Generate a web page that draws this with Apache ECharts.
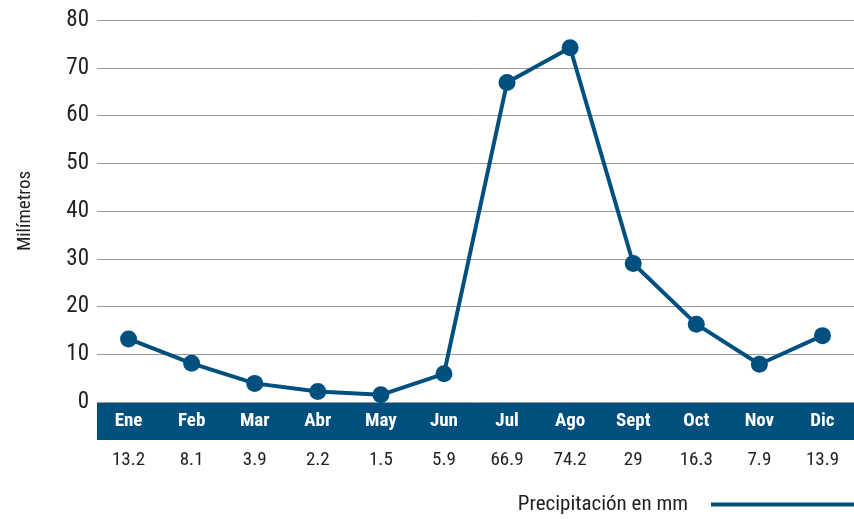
<!DOCTYPE html>
<html>
<head>
<meta charset="utf-8">
<script src="https://cdn.jsdelivr.net/npm/echarts@6/dist/echarts.min.js"></script>
<style>
  html, body { margin: 0; padding: 0; background: #fff; }
  #main { width: 854px; height: 519px; }
</style>
</head>
<body>
<div id="main"></div>
<script>
// meses y precipitación
const months = ['Ene', 'Feb', 'Mar', 'Abr', 'May', 'Jun', 'Jul', 'Ago', 'Sept', 'Oct', 'Nov', 'Dic'];
const rain = [13.2, 8.1, 3.9, 2.2, 1.5, 5.9, 66.9, 74.2, 29, 16.3, 7.9, 13.9];
const rainLabels = ['13.2', '8.1', '3.9', '2.2', '1.5', '5.9', '66.9', '74.2', '29', '16.3', '7.9', '13.9'];

const blue = '#00507f';
const font = '"Liberation Sans Narrow", "Roboto Condensed", Roboto, sans-serif';

let chart = echarts.init(document.getElementById('main'), null, { renderer: 'canvas' });

let option = {
    backgroundColor: '#ffffff',
    animation: false,
    textStyle: { fontFamily: font },
    grid: { left: 97, right: 0, top: 20, bottom: 117 },
    legend: {
        right: 0,
        bottom: 4,
        padding: 0,
        align: 'right',
        icon: 'rect',
        itemWidth: 143,
        itemHeight: 4,
        itemGap: 0,
        textStyle: { fontFamily: font, fontSize: 21, color: '#222', padding: [0, 18, 0, 0] },
        data: ['Precipitación en mm']
    },
    xAxis: [{
        type: 'category',
        data: months,
        position: 'bottom',
        offset: 19,
        axisLine: { show: true, onZero: false, lineStyle: { color: blue, width: 37, cap: 'butt' } },
        axisTick: { show: false },
        axisLabel: {
            color: '#fff', fontWeight: 'bold', fontSize: 19, fontFamily: font,
            verticalAlign: 'middle', margin: 0
        }
    }, {
        type: 'category',
        data: rainLabels,
        position: 'bottom',
        offset: 58,
        axisLine: { show: false },
        axisTick: { show: false },
        axisLabel: {
            color: '#222', fontSize: 19, fontFamily: font,
            verticalAlign: 'middle', margin: 0
        }
    }],
    yAxis: {
        type: 'value',
        min: 0,
        max: 80,
        interval: 10,
        name: 'Milímetros',
        nameLocation: 'middle',
        nameGap: 62,
        nameTextStyle: { fontFamily: font, fontSize: 19, color: '#222' },
        axisLine: { show: false },
        axisTick: { show: false },
        axisLabel: { color: '#222', fontSize: 23, fontFamily: font, margin: 8 },
        splitLine: { lineStyle: { color: '#999', width: 1 } }
    },
    series: [{
        name: 'Precipitación en mm',
        type: 'line',
        data: rain,
        color: blue,
        symbol: 'circle',
        symbolSize: 17,
        lineStyle: { width: 4, color: blue },
        itemStyle: { color: blue }
    }]
};

chart.setOption(option);
</script>
</body>
</html>
